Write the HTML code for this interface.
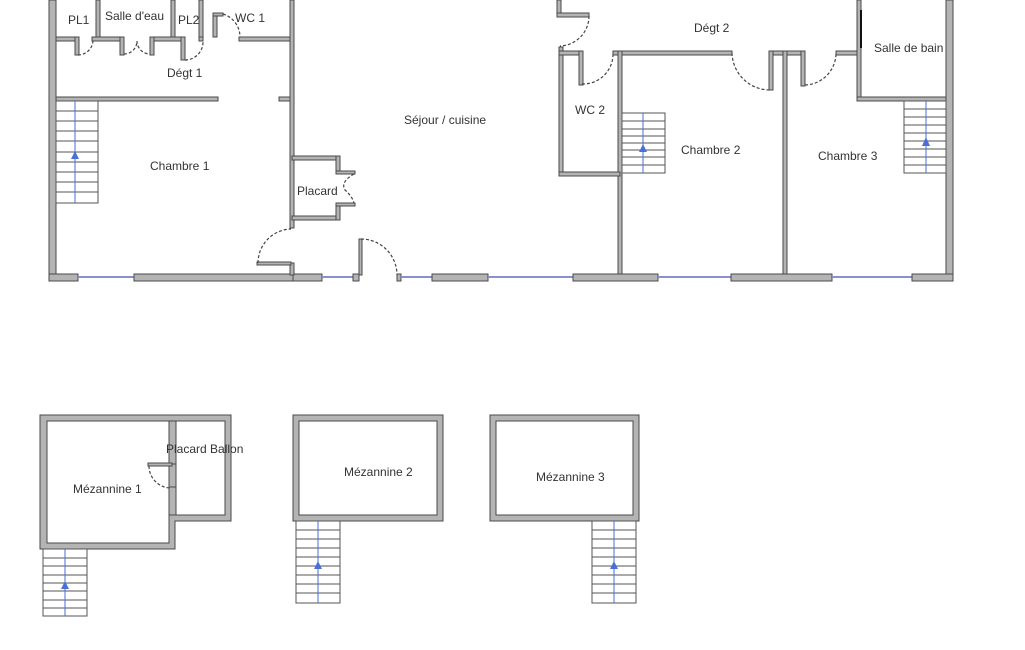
<!DOCTYPE html>
<html><head><meta charset="utf-8"><style>
body{margin:0;background:#fff;}
svg{display:block;font-family:"Liberation Sans",sans-serif;}
.w{fill:#b4b4b4;stroke:#4a4a4a;stroke-width:1;}
.d{fill:none;stroke:#444;stroke-width:1.2;stroke-dasharray:3,2;}
.win{stroke:#8a8fd0;stroke-width:2;}
.st{fill:#fff;stroke:#555;stroke-width:1;}
.ax{stroke:#4a6fd8;stroke-width:1;}
.ar{fill:#4a6fd8;}
text{font-size:12px;fill:#333;}
</style></head><body>
<svg width="1025" height="650" viewBox="0 0 1025 650">
<rect width="1025" height="650" fill="#fff"/>
<!-- outer walls -->
<rect class="w" x="49" y="0" width="7" height="281"/>
<rect class="w" x="946" y="0" width="7" height="281"/>
<!-- bottom wall segments -->
<rect class="w" x="49" y="274" width="29" height="7"/>
<line class="win" x1="78" y1="277" x2="134" y2="277"/>
<rect class="w" x="134" y="274" width="159" height="7"/>
<rect class="w" x="293" y="274" width="29" height="7"/>
<line class="win" x1="322" y1="277" x2="353" y2="277"/>
<rect class="w" x="353" y="274" width="6" height="7"/>
<rect class="w" x="397" y="274" width="4" height="7"/>
<line class="win" x1="401" y1="277" x2="432" y2="277"/>
<rect class="w" x="432" y="274" width="56" height="7"/>
<line class="win" x1="488" y1="277" x2="573" y2="277"/>
<rect class="w" x="573" y="274" width="85" height="7"/>
<line class="win" x1="658" y1="277" x2="731" y2="277"/>
<rect class="w" x="731" y="274" width="101" height="7"/>
<line class="win" x1="832" y1="277" x2="912" y2="277"/>
<rect class="w" x="912" y="274" width="41" height="7"/>
<!-- entry door -->
<rect class="w" x="359" y="239" width="3" height="36"/>
<path class="d" d="M361 239 A36 36 0 0 1 397 275"/>
<!-- top-left small rooms -->
<rect class="w" x="96" y="0" width="4" height="37"/>
<rect class="w" x="171" y="0" width="4" height="37"/>
<rect class="w" x="199" y="0" width="4" height="37"/>
<rect class="w" x="213" y="14" width="4" height="23"/>
<rect class="w" x="213" y="13" width="10" height="3"/>
<rect class="w" x="56" y="37" width="22" height="4"/>
<rect class="w" x="75" y="37" width="4" height="18"/>
<rect class="w" x="92" y="37" width="31" height="4"/>
<rect class="w" x="120" y="37" width="4" height="18"/>
<rect class="w" x="150" y="37" width="35" height="4"/>
<rect class="w" x="150" y="37" width="4" height="18"/>
<rect class="w" x="181" y="37" width="4" height="23"/>
<rect class="w" x="199" y="37" width="4" height="4"/>
<rect class="w" x="239" y="37" width="54" height="4"/>
<path class="d" d="M78 55 A15 15 0 0 0 93 40"/>
<path class="d" d="M124 54 A13 13 0 0 0 137 41 A13 13 0 0 0 150 54"/>
<path class="d" d="M185 60 A18 18 0 0 0 203 42"/>
<path class="d" d="M223 14 A24 24 0 0 1 240 37"/>
<!-- Dégt1 / chambre1 wall -->
<rect class="w" x="56" y="97" width="162" height="4"/>
<rect class="w" x="279" y="97" width="11" height="4"/>
<rect class="w" x="290" y="0" width="4" height="228"/>
<rect class="w" x="290" y="263" width="4" height="12"/>
<rect class="w" x="257" y="262" width="34" height="3"/>
<path class="d" d="M258 263 A34 34 0 0 1 291 229"/>
<!-- placard -->
<rect class="w" x="292" y="156" width="47" height="4"/>
<rect class="w" x="336" y="156" width="4" height="16"/>
<rect class="w" x="336" y="171" width="19" height="3"/>
<rect class="w" x="292" y="216" width="47" height="4"/>
<rect class="w" x="336" y="204" width="4" height="16"/>
<rect class="w" x="336" y="203" width="19" height="3"/>
<path class="d" d="M354 174 Q340 182 345 190 Q352 196 354 203"/>
<!-- stairs chambre1 -->
<g>
<rect class="st" x="56" y="101" width="42" height="102"/>
<line class="st" x1="56" y1="111" x2="98" y2="111"/><line class="st" x1="56" y1="121" x2="98" y2="121"/>
<line class="st" x1="56" y1="131" x2="98" y2="131"/><line class="st" x1="56" y1="141" x2="98" y2="141"/>
<line class="st" x1="56" y1="152" x2="98" y2="152"/><line class="st" x1="56" y1="162" x2="98" y2="162"/>
<line class="st" x1="56" y1="172" x2="98" y2="172"/><line class="st" x1="56" y1="182" x2="98" y2="182"/>
<line class="st" x1="56" y1="192" x2="98" y2="192"/>
<line class="ax" x1="75" y1="101" x2="75" y2="203"/>
<polygon class="ar" points="75,151 71,159 79,159"/>
</g>
<!-- Dégt2 area -->
<rect class="w" x="557" y="0" width="4" height="17"/>
<rect class="w" x="557" y="13" width="32" height="4"/>
<path class="d" d="M589 16 A30 30 0 0 1 560 46"/>
<rect class="w" x="559" y="47" width="4" height="129"/>
<rect class="w" x="559" y="51" width="22" height="4"/>
<rect class="w" x="579" y="51" width="4" height="34"/>
<path class="d" d="M582 84 A30 30 0 0 0 613 53"/>
<rect class="w" x="613" y="51" width="119" height="4"/>
<rect class="w" x="618" y="51" width="4" height="223"/>
<rect class="w" x="559" y="172" width="61" height="4"/>
<path class="d" d="M732 53 A38 38 0 0 0 770 90"/>
<rect class="w" x="770" y="51" width="33" height="4"/>
<rect class="w" x="769" y="51" width="4" height="39"/>
<rect class="w" x="783" y="51" width="4" height="223"/>
<rect class="w" x="801" y="51" width="4" height="35"/>
<path class="d" d="M805 85 A32 32 0 0 0 836 53"/>
<rect class="w" x="836" y="51" width="25" height="4"/>
<rect class="w" x="857" y="0" width="4" height="101"/>
<rect class="w" x="857" y="97" width="89" height="4"/>
<line x1="861" y1="10" x2="861" y2="48" stroke="#111" stroke-width="2"/>
<!-- stairs WC2/ch2 -->
<g>
<rect class="st" x="622" y="113" width="43" height="60"/>
<line class="st" x1="622" y1="121" x2="665" y2="121"/><line class="st" x1="622" y1="129" x2="665" y2="129"/>
<line class="st" x1="622" y1="136" x2="665" y2="136"/><line class="st" x1="622" y1="143" x2="665" y2="143"/>
<line class="st" x1="622" y1="150" x2="665" y2="150"/><line class="st" x1="622" y1="157" x2="665" y2="157"/>
<line class="st" x1="622" y1="165" x2="665" y2="165"/>
<line class="ax" x1="643" y1="113" x2="643" y2="173"/>
<polygon class="ar" points="643,144 639,152 647,152"/>
</g>
<!-- stairs ch3 -->
<g>
<rect class="st" x="904" y="101" width="42" height="72"/>
<line class="st" x1="904" y1="109" x2="946" y2="109"/><line class="st" x1="904" y1="117" x2="946" y2="117"/>
<line class="st" x1="904" y1="125" x2="946" y2="125"/><line class="st" x1="904" y1="133" x2="946" y2="133"/>
<line class="st" x1="904" y1="141" x2="946" y2="141"/><line class="st" x1="904" y1="149" x2="946" y2="149"/>
<line class="st" x1="904" y1="157" x2="946" y2="157"/><line class="st" x1="904" y1="165" x2="946" y2="165"/>
<line class="ax" x1="926" y1="101" x2="926" y2="173"/>
<polygon class="ar" points="926,137 922,146 930,146"/>
</g>
<!-- labels main -->
<text x="68" y="24">PL1</text>
<text x="105" y="20">Salle d'eau</text>
<text x="178" y="24">PL2</text>
<text x="235" y="22">WC 1</text>
<text x="167" y="77">Dégt 1</text>
<text x="150" y="170">Chambre 1</text>
<text x="297" y="195">Placard</text>
<text x="404" y="124">Séjour / cuisine</text>
<text x="694" y="32">Dégt 2</text>
<text x="575" y="114">WC 2</text>
<text x="681" y="154">Chambre 2</text>
<text x="818" y="160">Chambre 3</text>
<text x="874" y="52">Salle de bain</text>
<!-- mezzanine 1 -->
<path class="w" d="M40 415 H231 V521 H175 V549 H40 Z M47 421 V543 H169 V421 Z M176 421 V515 H225 V421 Z" fill-rule="evenodd"/>
<rect class="w" x="169" y="421" width="7" height="43"/>
<rect class="w" x="169" y="487" width="7" height="28"/>
<rect class="w" x="148" y="463" width="24" height="3"/>
<path class="d" d="M149 466 A22 22 0 0 0 171 488"/>
<g>
<rect class="st" x="43" y="549" width="44" height="67"/>
<line class="st" x1="43" y1="558" x2="87" y2="558"/><line class="st" x1="43" y1="566" x2="87" y2="566"/>
<line class="st" x1="43" y1="575" x2="87" y2="575"/><line class="st" x1="43" y1="583" x2="87" y2="583"/>
<line class="st" x1="43" y1="591" x2="87" y2="591"/><line class="st" x1="43" y1="600" x2="87" y2="600"/>
<line class="st" x1="43" y1="608" x2="87" y2="608"/>
<line class="ax" x1="65" y1="549" x2="65" y2="616"/>
<polygon class="ar" points="65,581 61,589 69,589"/>
</g>
<text x="73" y="493">Mézannine 1</text>
<text x="166" y="453">Placard Ballon</text>
<!-- mezzanine 2 -->
<path class="w" d="M293 415 H443 V521 H293 Z M299 421 V515 H437 V421 Z" fill-rule="evenodd"/>
<g>
<rect class="st" x="296" y="521" width="44" height="82"/>
<line class="st" x1="296" y1="530" x2="340" y2="530"/><line class="st" x1="296" y1="539" x2="340" y2="539"/>
<line class="st" x1="296" y1="548" x2="340" y2="548"/><line class="st" x1="296" y1="557" x2="340" y2="557"/>
<line class="st" x1="296" y1="566" x2="340" y2="566"/><line class="st" x1="296" y1="575" x2="340" y2="575"/>
<line class="st" x1="296" y1="584" x2="340" y2="584"/><line class="st" x1="296" y1="593" x2="340" y2="593"/>
<line class="ax" x1="318" y1="521" x2="318" y2="603"/>
<polygon class="ar" points="318,561 314,569 322,569"/>
</g>
<text x="344" y="476">Mézannine 2</text>
<!-- mezzanine 3 -->
<path class="w" d="M490 415 H639 V521 H490 Z M496 421 V515 H633 V421 Z" fill-rule="evenodd"/>
<g>
<rect class="st" x="592" y="521" width="44" height="82"/>
<line class="st" x1="592" y1="530" x2="636" y2="530"/><line class="st" x1="592" y1="539" x2="636" y2="539"/>
<line class="st" x1="592" y1="548" x2="636" y2="548"/><line class="st" x1="592" y1="557" x2="636" y2="557"/>
<line class="st" x1="592" y1="566" x2="636" y2="566"/><line class="st" x1="592" y1="575" x2="636" y2="575"/>
<line class="st" x1="592" y1="584" x2="636" y2="584"/><line class="st" x1="592" y1="593" x2="636" y2="593"/>
<line class="ax" x1="614" y1="521" x2="614" y2="603"/>
<polygon class="ar" points="614,561 610,569 618,569"/>
</g>
<text x="536" y="481">Mézannine 3</text>
</svg>
</body></html>
